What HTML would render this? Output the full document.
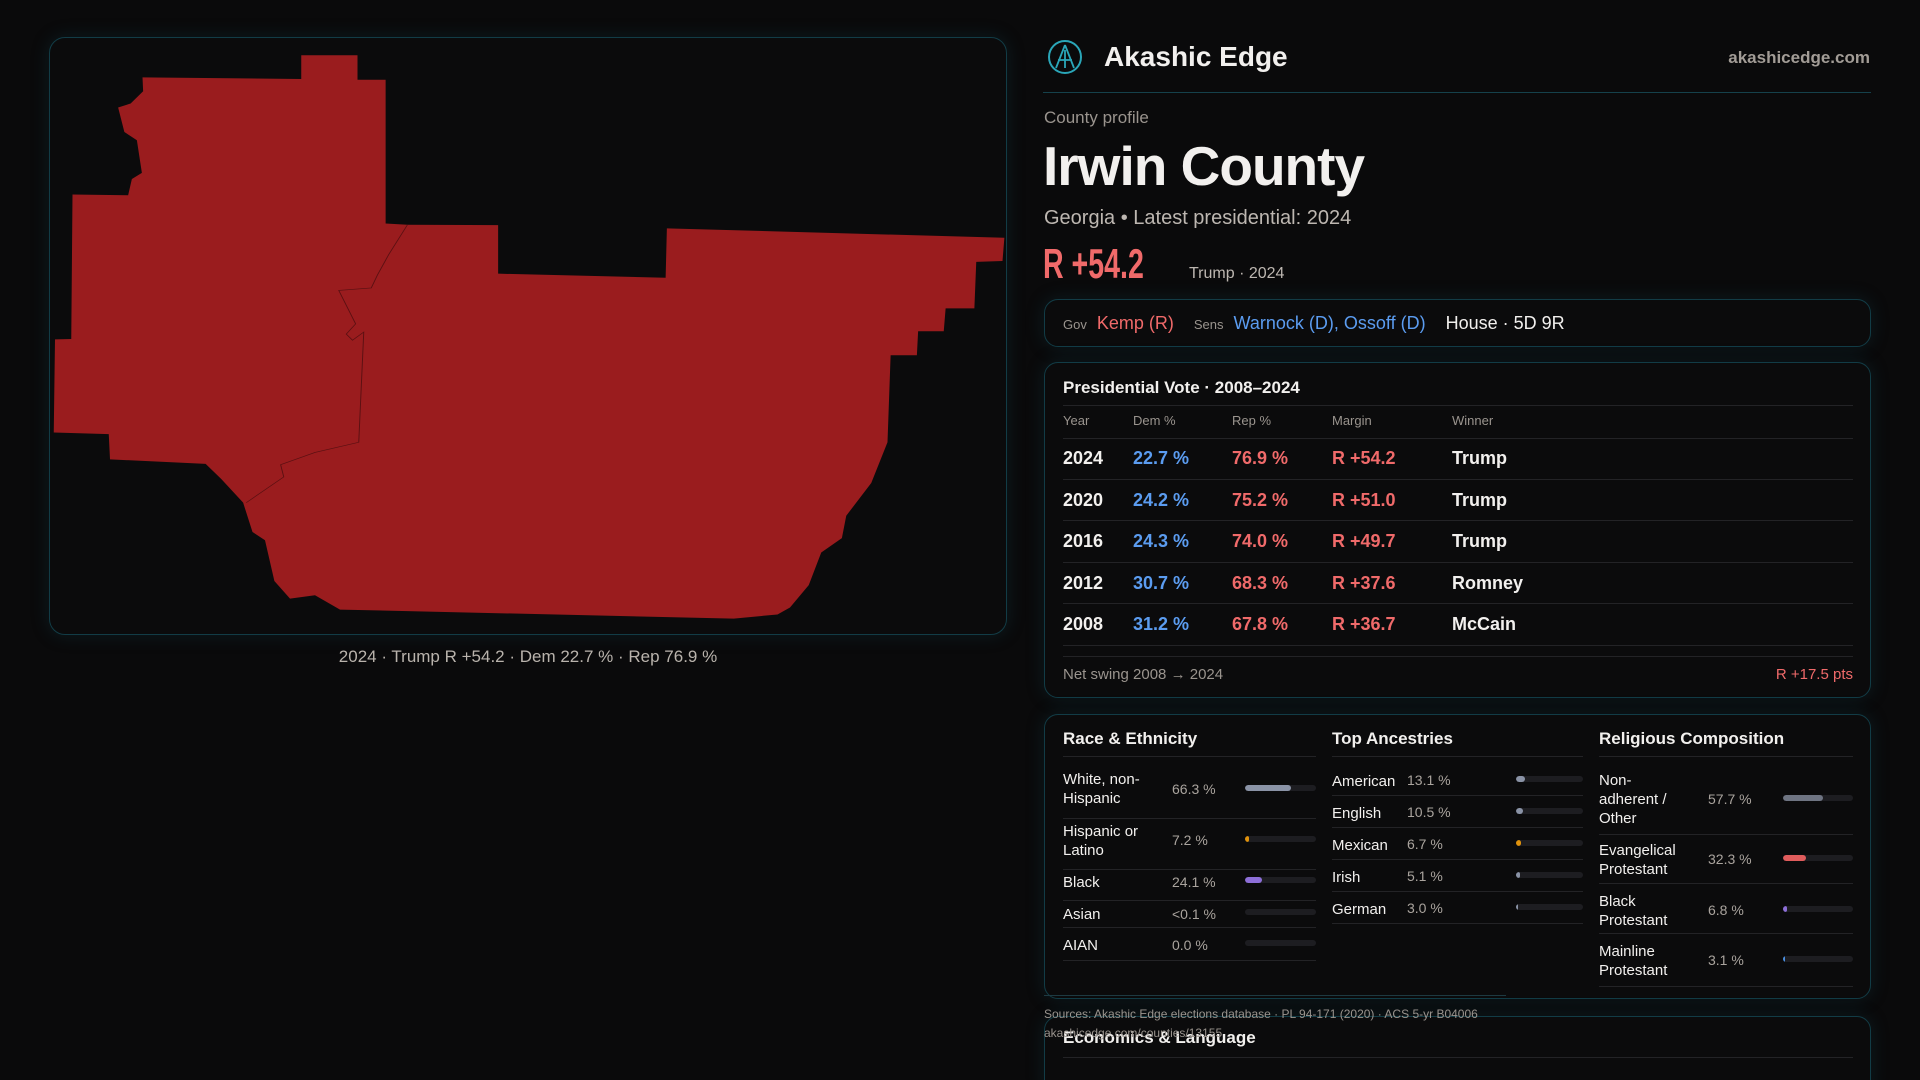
<!DOCTYPE html>
<html><head><meta charset="utf-8"><style>
*{margin:0;padding:0;box-sizing:border-box}
html,body{width:1920px;height:1080px;overflow:hidden}
body{background:#0a0a0b;font-family:"Liberation Sans",sans-serif;color:#f2f0ee;position:relative}
.a{position:absolute;white-space:nowrap}
.box{position:absolute;border:1px solid #123c46;border-radius:14px;background:#0b0b0c;box-shadow:0 0 18px rgba(20,80,95,0.25)}
.hl{position:absolute;height:1px;background:#232326}
.g{color:#9a948e}
.r{color:#f06a6a}
.b{color:#5b9cf0}
.bar{position:absolute;height:6px;border-radius:3px;background:#1d1d21;overflow:hidden}
.bar i{position:absolute;left:0;top:0;bottom:0;border-radius:3px}
.lb{font-size:15px;line-height:19px}
.v{font-size:14px;color:#aaa49e}
</style></head><body>
<div class="box" style="left:49px;top:37px;width:958px;height:598px;border-radius:16px"></div>
<svg class="a" style="left:40px;top:30px" width="980" height="640" viewBox="0 0 1568 1568" preserveAspectRatio="none">
<polygon fill="#9a1c1e" points="418,62 508,62 508,122 553,122 553,474 588,477 733,478 733,597 1001,607 1003,486 1543,509 1540,566 1498,568 1495,682 1449,682 1446,738 1405,738 1403,797 1361,797 1356,1010 1330,1110 1290,1190 1283,1245 1250,1280 1230,1360 1200,1415 1180,1432 1110,1442 480,1420 440,1385 400,1393 375,1350 360,1250 340,1230 325,1158 290,1100 265,1063 112,1052 110,990 22,986 24,758 50,757 52,403 141,405 147,365 163,350 155,270 135,250 125,190 145,180 165,150 164,116 418,120"/>
<polyline fill="none" stroke="#5a1012" stroke-width="1.5" points="588,477 558,550 540,600 530,632 478,638 505,720 490,745 500,760 518,740 510,1010 440,1035 385,1065 390,1095 330,1158"/>
</svg>
<div class="a" style="left:0;width:1056px;top:647px;text-align:center;font-size:17px;color:#b9b3ac">2024 · Trump R +54.2 · Dem 22.7 % · Rep 76.9 %</div>

<svg class="a" style="left:1046px;top:38px" width="38" height="38" viewBox="0 0 38 38"><circle cx="19" cy="19" r="16" fill="none" stroke="#2aa6b8" stroke-width="2"/><path d="M19 7 L10 30 M19 7 L28 30 M12 22 L26 22 M19 12 L19 30" stroke="#2aa6b8" stroke-width="1.8" fill="none"/></svg>
<div class="a" style="left:1104px;top:41px;font-size:28px;font-weight:bold">Akashic Edge</div>
<div class="a g" style="right:50px;top:48px;font-size:17px;font-weight:bold;color:#a29c96">akashicedge.com</div>
<div class="hl" style="left:1043px;width:828px;top:92px;background:#15414b"></div>
<div class="a g" style="left:1044px;top:108px;font-size:17px">County profile</div>
<div class="a" style="left:1043px;top:134px;font-size:55px;font-weight:bold;letter-spacing:-1px">Irwin County</div>
<div class="a" style="left:1044px;top:207px;font-size:20px;color:#bdb7b1">Georgia • Latest presidential: 2024</div>
<div class="a r" style="left:1043px;top:240px;font-size:42px;font-weight:bold;transform:scaleX(0.68);transform-origin:left top">R +54.2</div>
<div class="a" style="left:1189px;top:265px;font-size:16px;color:#bdb7b1">Trump · 2024</div>

<div class="box" style="left:1044px;top:299px;width:827px;height:48px"></div>
<div class="a" style="left:1063px;top:313px;font-size:18px"><span class="g" style="font-size:13px">Gov</span>&nbsp; <span class="r">Kemp (R)</span>&nbsp;&nbsp;&nbsp; <span class="g" style="font-size:13px">Sens</span>&nbsp; <span class="b">Warnock (D), Ossoff (D)</span>&nbsp;&nbsp;&nbsp; <span>House · 5D 9R</span></div>

<div class="box" style="left:1044px;top:362px;width:827px;height:336px"></div>
<div class="a" style="left:1063px;top:378px;font-size:17px;font-weight:bold">Presidential Vote · 2008–2024</div>
<div class="hl" style="left:1063px;width:790px;top:405px"></div>
<div class="a g" style="left:1063px;top:413px;font-size:13px">Year</div>
<div class="a g" style="left:1133px;top:413px;font-size:13px">Dem %</div>
<div class="a g" style="left:1232px;top:413px;font-size:13px">Rep %</div>
<div class="a g" style="left:1332px;top:413px;font-size:13px">Margin</div>
<div class="a g" style="left:1452px;top:413px;font-size:13px">Winner</div>
<div class="hl" style="left:1063px;width:790px;top:438px"></div>
<div style="position:absolute;left:1063px;top:438px;width:790px;font-size:18px;font-weight:bold">
<div style="position:relative;height:41.5px;border-bottom:1px solid #232326"><span class="a" style="left:0;top:10px">2024</span><span class="a b" style="left:70px;top:10px">22.7 %</span><span class="a r" style="left:169px;top:10px">76.9 %</span><span class="a r" style="left:269px;top:10px">R +54.2</span><span class="a" style="left:389px;top:10px">Trump</span></div>
<div style="position:relative;height:41.5px;border-bottom:1px solid #232326"><span class="a" style="left:0;top:10px">2020</span><span class="a b" style="left:70px;top:10px">24.2 %</span><span class="a r" style="left:169px;top:10px">75.2 %</span><span class="a r" style="left:269px;top:10px">R +51.0</span><span class="a" style="left:389px;top:10px">Trump</span></div>
<div style="position:relative;height:41.5px;border-bottom:1px solid #232326"><span class="a" style="left:0;top:10px">2016</span><span class="a b" style="left:70px;top:10px">24.3 %</span><span class="a r" style="left:169px;top:10px">74.0 %</span><span class="a r" style="left:269px;top:10px">R +49.7</span><span class="a" style="left:389px;top:10px">Trump</span></div>
<div style="position:relative;height:41.5px;border-bottom:1px solid #232326"><span class="a" style="left:0;top:10px">2012</span><span class="a b" style="left:70px;top:10px">30.7 %</span><span class="a r" style="left:169px;top:10px">68.3 %</span><span class="a r" style="left:269px;top:10px">R +37.6</span><span class="a" style="left:389px;top:10px">Romney</span></div>
<div style="position:relative;height:41.5px;border-bottom:1px solid #232326"><span class="a" style="left:0;top:10px">2008</span><span class="a b" style="left:70px;top:10px">31.2 %</span><span class="a r" style="left:169px;top:10px">67.8 %</span><span class="a r" style="left:269px;top:10px">R +36.7</span><span class="a" style="left:389px;top:10px">McCain</span></div>
</div>
<div class="hl" style="left:1063px;width:790px;top:656px"></div>
<div class="a g" style="left:1063px;top:666px;font-size:15px">Net swing 2008 → 2024</div>
<div class="a r" style="right:67px;top:666px;font-size:15px">R +17.5 pts</div>

<div class="box" style="left:1044px;top:714px;width:827px;height:285px"></div>
<div class="a" style="left:1063px;top:729px;font-size:17px;font-weight:bold">Race &amp; Ethnicity</div>
<div class="a" style="left:1332px;top:729px;font-size:17px;font-weight:bold">Top Ancestries</div>
<div class="a" style="left:1599px;top:729px;font-size:17px;font-weight:bold">Religious Composition</div>
<div class="hl" style="left:1063px;width:253px;top:756px"></div>
<div class="hl" style="left:1332px;width:251px;top:756px"></div>
<div class="hl" style="left:1599px;width:254px;top:756px"></div>

<div class="a lb" style="left:1063px;top:770px">White, non-<br>Hispanic</div><div class="a v" style="left:1172px;top:781px">66.3 %</div><div class="bar" style="left:1245px;top:785px;width:71px"><i style="width:65%;background:#8a93a6"></i></div><div class="hl" style="left:1063px;width:253px;top:818px"></div>
<div class="a lb" style="left:1063px;top:822px">Hispanic or<br>Latino</div><div class="a v" style="left:1172px;top:832px">7.2 %</div><div class="bar" style="left:1245px;top:836px;width:71px"><i style="width:4px;background:#e0920c"></i></div><div class="hl" style="left:1063px;width:253px;top:869px"></div>
<div class="a lb" style="left:1063px;top:873px">Black</div><div class="a v" style="left:1172px;top:874px">24.1 %</div><div class="bar" style="left:1245px;top:877px;width:71px"><i style="width:17px;background:#8d6fd8"></i></div><div class="hl" style="left:1063px;width:253px;top:900px"></div>
<div class="a lb" style="left:1063px;top:905px">Asian</div><div class="a v" style="left:1172px;top:906px">&lt;0.1 %</div><div class="bar" style="left:1245px;top:909px;width:71px"></div><div class="hl" style="left:1063px;width:253px;top:927px"></div>
<div class="a lb" style="left:1063px;top:936px">AIAN</div><div class="a v" style="left:1172px;top:937px">0.0 %</div><div class="bar" style="left:1245px;top:940px;width:71px"></div><div class="hl" style="left:1063px;width:253px;top:960px"></div>

<div class="a lb" style="left:1332px;top:772px">American</div><div class="a v" style="left:1407px;top:772px">13.1 %</div><div class="bar" style="left:1516px;top:776px;width:67px"><i style="width:9px;background:#8a93a6"></i></div><div class="hl" style="left:1332px;width:251px;top:795px"></div>
<div class="a lb" style="left:1332px;top:804px">English</div><div class="a v" style="left:1407px;top:804px">10.5 %</div><div class="bar" style="left:1516px;top:808px;width:67px"><i style="width:7px;background:#8a93a6"></i></div><div class="hl" style="left:1332px;width:251px;top:827px"></div>
<div class="a lb" style="left:1332px;top:836px">Mexican</div><div class="a v" style="left:1407px;top:836px">6.7 %</div><div class="bar" style="left:1516px;top:840px;width:67px"><i style="width:5px;background:#e0920c"></i></div><div class="hl" style="left:1332px;width:251px;top:859px"></div>
<div class="a lb" style="left:1332px;top:868px">Irish</div><div class="a v" style="left:1407px;top:868px">5.1 %</div><div class="bar" style="left:1516px;top:872px;width:67px"><i style="width:4px;background:#8a93a6"></i></div><div class="hl" style="left:1332px;width:251px;top:891px"></div>
<div class="a lb" style="left:1332px;top:900px">German</div><div class="a v" style="left:1407px;top:900px">3.0 %</div><div class="bar" style="left:1516px;top:904px;width:67px"><i style="width:2px;background:#8a93a6"></i></div><div class="hl" style="left:1332px;width:251px;top:923px"></div>

<div class="a lb" style="left:1599px;top:771px">Non-<br>adherent /<br>Other</div><div class="a v" style="left:1708px;top:791px">57.7 %</div><div class="bar" style="left:1783px;top:795px;width:70px"><i style="width:57%;background:#6e7482"></i></div><div class="hl" style="left:1599px;width:254px;top:834px"></div>
<div class="a lb" style="left:1599px;top:841px">Evangelical<br>Protestant</div><div class="a v" style="left:1708px;top:851px">32.3 %</div><div class="bar" style="left:1783px;top:855px;width:70px"><i style="width:23px;background:#e05c5c"></i></div><div class="hl" style="left:1599px;width:254px;top:883px"></div>
<div class="a lb" style="left:1599px;top:892px">Black<br>Protestant</div><div class="a v" style="left:1708px;top:902px">6.8 %</div><div class="bar" style="left:1783px;top:906px;width:70px"><i style="width:4px;background:#8d6fd8"></i></div><div class="hl" style="left:1599px;width:254px;top:933px"></div>
<div class="a lb" style="left:1599px;top:942px">Mainline<br>Protestant</div><div class="a v" style="left:1708px;top:952px">3.1 %</div><div class="bar" style="left:1783px;top:956px;width:70px"><i style="width:2px;background:#4a8fe0"></i></div><div class="hl" style="left:1599px;width:254px;top:986px"></div>

<div class="hl" style="left:1044px;width:462px;top:995px;background:#1d3a42"></div>
<div class="box" style="left:1044px;top:1016px;width:827px;height:80px"></div>
<div class="a" style="left:1063px;top:1028px;font-size:17px;font-weight:bold">Economics &amp; Language</div>
<div class="hl" style="left:1063px;width:790px;top:1057px"></div>
<div class="a g" style="left:1044px;top:1007px;font-size:12px">Sources: Akashic Edge elections database · PL 94-171 (2020) · ACS 5-yr B04006</div>
<div class="a g" style="left:1044px;top:1026px;font-size:12px">akashicedge.com/counties/13155</div>
</body></html>
